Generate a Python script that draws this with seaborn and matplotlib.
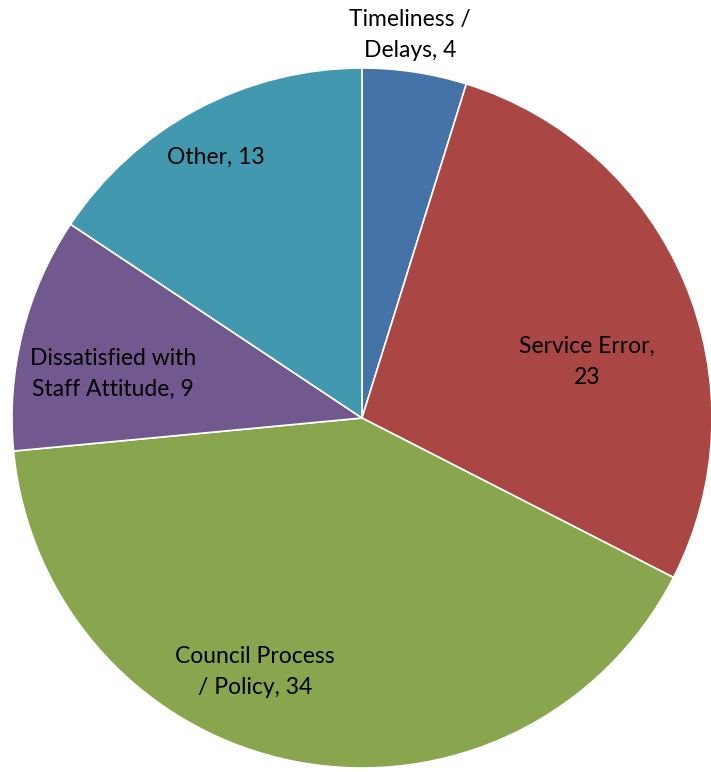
import matplotlib
matplotlib.use("Agg")
import matplotlib.pyplot as plt
import seaborn as sns

# complaint categories, clockwise from 12 o'clock
categories = ["Timeliness /\nDelays", "Service Error", "Council Process\n/ Policy",
              "Dissatisfied with\nStaff Attitude", "Other"]
counts = [4, 23, 34, 9, 13]
colors = ["#4572A7", "#AA4643", "#89A54E", "#71588F", "#4198AF"]
# separator between name and count ("Service Error," breaks before the number)
separators = [", ", ",\n", ", ", ", ", ", "]

# label placement (in units of pie radius), roughly where Excel put them
label_pos = [(0.137, 1.094), (0.643, 0.16), (-0.306, -0.726), (-0.711, 0.126), (-0.417, 0.746)]

sns.set_style("white")
plt.rcParams["font.family"] = ["Lato", "DejaVu Sans"]

fig = plt.figure(figsize=(7.11, 7.72), dpi=100)
ax = fig.add_axes([12 / 711, 4 / 772, 700 / 711, 700 / 772])

labels = [f"{c}{s}{v}" for c, s, v in zip(categories, separators, counts)]
wedges, texts = ax.pie(
    counts,
    labels=labels,
    colors=colors,
    startangle=90,
    counterclock=False,
    wedgeprops={"edgecolor": "white", "linewidth": 1.2},
    textprops={"fontsize": 16.5, "color": "black", "ha": "center", "va": "center",
               "multialignment": "center", "linespacing": 1.55},
)
for t, (x, y) in zip(texts, label_pos):
    t.set_position((x, y))
    t.set_horizontalalignment("center")
    t.set_verticalalignment("center")

ax.set_xlim(-1, 1)
ax.set_ylim(-1, 1)
ax.set_aspect("equal")
ax.axis("off")

fig.savefig("out.png", dpi=100)
